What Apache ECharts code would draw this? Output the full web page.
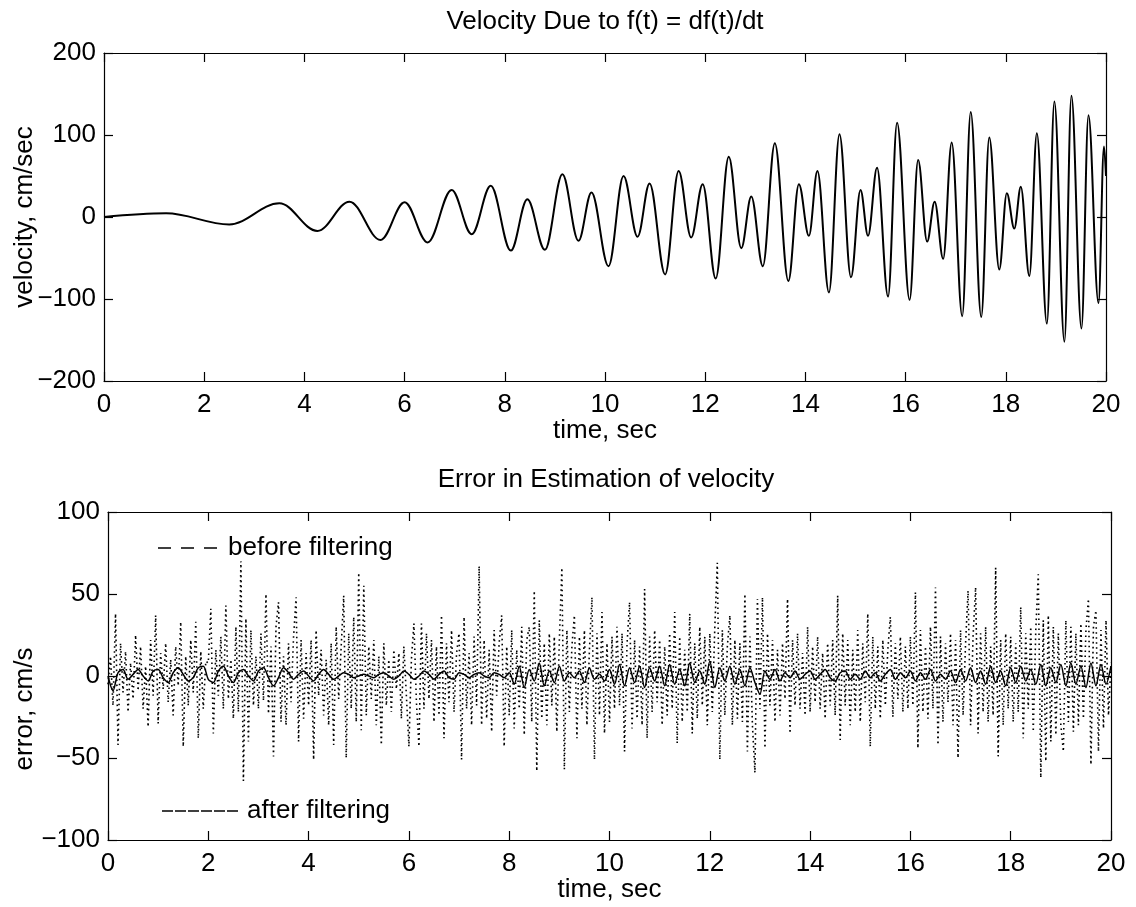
<!DOCTYPE html>
<html>
<head>
<meta charset="utf-8">
<script src="https://cdn.jsdelivr.net/npm/echarts@6/dist/echarts.min.js"></script>
<style>
html,body{margin:0;padding:0;background:#fff;}
#chart{width:1136px;height:907px;}
</style>
</head>
<body>
<div id="chart"></div>
<script>
// ---- Top plot: velocity extrema ----
var velTimes = [0, 1.24, 2.5, 3.5, 4.26, 4.9, 5.52, 6.0, 6.46, 6.94, 7.34, 7.72, 8.12, 8.45, 8.8, 9.15, 9.47, 9.73, 10.07, 10.37, 10.65, 10.89, 11.2, 11.47, 11.72, 11.95, 12.21, 12.47, 12.72, 12.92, 13.15, 13.39, 13.66, 13.87, 14.07, 14.24, 14.47, 14.68, 14.91, 15.1, 15.25, 15.43, 15.65, 15.83, 16.08, 16.25, 16.43, 16.58, 16.75, 16.92, 17.13, 17.3, 17.51, 17.67, 17.87, 18.02, 18.17, 18.3, 18.47, 18.62, 18.82, 18.97, 19.17, 19.31, 19.51, 19.65, 19.85, 19.96, 20];
var velValues = [0, 4.5, -9, 16.7, -17, 18.7, -28, 18, -31, 33, -21, 38, -41, 21.5, -40, 52, -29, 30, -60, 50, -24, 41, -70, 56, -25, 40, -75, 73.5, -38, 25, -60, 90, -78, 40, -23, 56, -92, 101, -73.5, 33, -23, 60, -97, 115, -101, 69.5, -30, 18.7, -51, 91, -121, 128, -122, 97, -64, 29, -14, 37, -72, 102, -130, 141, -152, 148, -136, 124, -105, 86, 50];

// ---- Bottom plot: error before filtering, one row per second, step 0.05 s ----
var beforeStep = 0.05;
var beforeValues = [].concat(
  [-5, 12, -18, 38, -42, 20, -10, 15, -22, 8, -14, 25, -9, 18, -20, 6, -31, 22, -12, 37],
  [-29, 14, -8, 20, -16, 10, -24, 18, -6, 33, -43, 12, -18, 22, -10, 33, -38, 15, -20, 9],
  [8, 41, -35, 16, -12, 24, -20, 43, -14, 10, -26, 30, -22, 70, -64, 35, -40, 28, -18, 12],
  [-20, 26, -15, 50, -23, 18, -49, 30, 45, -28, 12, -30, 20, -16, 24, 48, -40, 22, -26, 14],
  [-18, 22, -51, 28, -12, 16, -24, 10, -30, 20, -42, 30, -14, 18, 49, -50, 26, -20, 36, -28],
  [63, -33, 55, -24, 18, -14, 22, -30, 12, -42, 20, -18, 10, -22, 16, -8, 14, -26, 18, -12],
  [-43, 10, 32, -16, -43, 32, -20, 26, -14, 22, -28, 18, -24, 37, -38, 20, -16, 28, -22, 14],
  [26, -51, 36, -20, 14, -30, 24, -18, 67, -30, 22, -26, 16, -34, 28, -12, 20, 37, -43, 18],
  [-24, 28, -32, 16, -20, 30, -36, 22, 30, -28, 52, -58, 34, -26, 20, -30, 26, -18, 24, -34],
  [22, 66, -57, 28, -22, 18, 37, -38, 24, -20, 28, -30, 16, 48, -51, 26, -24, 39, -35, 20],
  [-28, 24, -20, 30, -18, 26, -46, 20, 45, -32, 22, -26, 18, -30, 53, -38, 24, -22, 28, -16],
  [22, -30, 18, -24, 26, -20, 39, -41, 24, -28, 16, -22, 38, -35, 20, -26, 30, -18, 24, -30],
  [26, -22, 30, 69, -51, 28, -24, 18, 37, -30, 22, -26, 20, -28, 50, -46, 24, -30, -59, 47],
  [-20, 48, -44, 26, -18, 22, -28, 16, -24, 20, -14, 47, -35, 22, -18, 26, -20, 14, -24, 30],
  [-22, 18, -16, 24, -20, 14, -26, 20, -18, 22, -24, 49, -39, 26, -18, 22, -30, 16, -22, 28],
  [-28, 20, -16, 38, -43, 24, -20, 18, -26, 22, -18, 16, 36, -25, 20, -14, 24, -22, 18, -20],
  [24, -18, 51, -44, 28, -22, 18, -26, 30, -20, 54, -42, 24, -28, 20, -16, 26, -30, 22, -50],
  [28, -24, 20, 52, -30, 24, 54, -35, 26, -22, 30, -28, 18, -24, 66, -49, 22, -30, 26, -20],
  [24, -28, 20, -22, 42, -38, 26, -20, 30, -34, 28, 62, -62, 34, -52, 37, -40, 30, -36, 26],
  [-30, -46, 34, -28, 30, -34, 26, -30, 32, -26, 28, 47, -54, 30, 40, -46, 28, -32, 34, -24],
  [8]
);

// ---- Bottom plot: error after filtering, one row per second, step 0.1 s ----
var afterStep = 0.1;
var afterValues = [].concat(
  [0, -9, 2, 4, -2, 1, 4, 0, -3, 3],
  [4, -1, -4, 2, 5, 1, -3, -1, 5, 6],
  [-2, -4, 3, 6, 0, -4, 2, 4, 0, -3],
  [3, 5, -1, -6, -1, 5, 2, -2, 1, 3],
  [0, -3, 1, 4, 1, -2, 0, 2, 1, -1],
  [0, 1, 0, -1, 1, 2, 0, -2, 0, 3],
  [1, -2, 0, 3, 1, -2, 1, 3, -1, -2],
  [2, 1, -1, 1, 2, 0, -1, 2, 1, -1],
  [2, -5, 6, -7, 4, -3, 8, -6, 3, -4],
  [6, -3, 2, -1, 3, -4, 5, -2, 1, -3],
  [4, -5, 7, -6, 5, -4, 6, -7, 5, -3],
  [6, -6, 7, -5, 4, -6, 8, -4, 3, -5],
  [9, -7, 5, -3, 6, -5, 4, -6, 5, -4],
  [-11, 3, -2, 4, -3, 2, -1, 3, -2, 1],
  [3, -2, 1, 4, -1, -3, 2, 3, -2, 1],
  [-2, 3, -1, 2, -3, 1, 4, -2, 2, -1],
  [3, -3, 2, -2, 4, -3, 1, -2, 3, -4],
  [4, -3, 5, -4, 3, -5, 6, -4, 3, -6],
  [5, -4, 6, -3, 4, -5, 7, -6, 5, -4],
  [7, -6, 8, -5, 6, -7, 8, -6, 7, -5],
  [6]
);

var topTitle = 'Velocity Due to f(t) = df(t)/dt';
var bottomTitle = 'Error in Estimation of velocity';
var xName = 'time, sec';
var topYName = 'velocity, cm/sec';
var bottomYName = 'error, cm/s';
var legendBefore = 'before filtering';
var legendAfter = 'after filtering';

var FONT = 'Liberation Sans, Arial, Helvetica, sans-serif';
var FS = 26;

function zip(ts, vs) { return vs.map(function (v, i) { return [ts[i], v]; }); }
function stepped(step, vs) { return vs.map(function (v, i) { return [+(i * step).toFixed(3), v]; }); }
function fmt(v) { return String(v).replace('-', '\u2212'); }

var chart = echarts.init(document.getElementById('chart'), null, { renderer: 'canvas' });

function xAx(grid, pos, showLabel, name) {
  return {
    type: 'value', gridIndex: grid, position: pos, min: 0, max: 20, interval: 2,
    name: name || '', nameLocation: 'middle', nameGap: 37, nameMoveOverlap: false,
    nameTextStyle: { fontFamily: FONT, fontSize: FS, color: '#000' },
    axisLine: { show: true, onZero: false, lineStyle: { color: '#000', width: 1.2 } },
    axisTick: { show: true, inside: true, length: 9, lineStyle: { color: '#000', width: 1.2 } },
    axisLabel: { show: showLabel, margin: 11, fontFamily: FONT, fontSize: FS, color: '#000', formatter: fmt },
    splitLine: { show: false }
  };
}
function yAx(grid, pos, showLabel, min, max, interval, name, gap, pad) {
  return {
    type: 'value', gridIndex: grid, position: pos, min: min, max: max, interval: interval,
    name: name || '', nameLocation: 'middle', nameGap: gap || 60, nameMoveOverlap: false,
    nameTextStyle: { fontFamily: FONT, fontSize: FS, color: '#000', padding: pad || 0 },
    axisLine: { show: true, onZero: false, lineStyle: { color: '#000', width: 1.2 } },
    axisTick: { show: true, inside: true, length: 9, lineStyle: { color: '#000', width: 1.2 } },
    axisLabel: { show: showLabel, margin: 8, fontFamily: FONT, fontSize: FS, color: '#000', formatter: fmt },
    splitLine: { show: false }
  };
}

var option = {
  animation: false,
  backgroundColor: '#fff',
  textStyle: { fontFamily: FONT, color: '#000' },
  grid: [
    { left: 104, top: 53, width: 1002, height: 328, containLabel: false, outerBoundsMode: 'none' },
    { left: 108, top: 512, width: 1003, height: 328, containLabel: false, outerBoundsMode: 'none' }
  ],
  xAxis: [
    xAx(0, 'bottom', true, xName),
    xAx(0, 'top', false),
    xAx(1, 'bottom', true, xName),
    xAx(1, 'top', false)
  ],
  yAxis: [
    yAx(0, 'left', true, -200, 200, 100, topYName, 66),
    yAx(0, 'right', false, -200, 200, 100),
    yAx(1, 'left', true, -100, 100, 50, bottomYName, 70, [0, 66, 0, 0]),
    yAx(1, 'right', false, -100, 100, 50)
  ],
  graphic: [
    { type: 'text', x: 605, y: 22, style: { text: topTitle, font: FS + 'px ' + FONT, fill: '#000', textAlign: 'center', textVerticalAlign: 'middle' } },
    { type: 'text', x: 606, y: 480, style: { text: bottomTitle, font: FS + 'px ' + FONT, fill: '#000', textAlign: 'center', textVerticalAlign: 'middle' } },
    { type: 'line', shape: { x1: 158, y1: 548, x2: 219, y2: 548 }, style: { stroke: '#000', lineWidth: 1.5, lineDash: [13, 10] } },
    { type: 'text', x: 228, y: 548, style: { text: legendBefore, font: FS + 'px ' + FONT, fill: '#000', textAlign: 'left', textVerticalAlign: 'middle' } },
    { type: 'line', shape: { x1: 162, y1: 811, x2: 238, y2: 811 }, style: { stroke: '#000', lineWidth: 1.5, lineDash: [11, 2] } },
    { type: 'text', x: 247, y: 811, style: { text: legendAfter, font: FS + 'px ' + FONT, fill: '#000', textAlign: 'left', textVerticalAlign: 'middle' } }
  ],
  series: [
    {
      name: 'velocity', type: 'line', xAxisIndex: 0, yAxisIndex: 0,
      data: zip(velTimes, velValues), showSymbol: false, symbol: 'none',
      smooth: 0.36, smoothMonotone: 'x',
      lineStyle: { color: '#000', width: 2 }
    },
    {
      name: 'before filtering', type: 'line', xAxisIndex: 2, yAxisIndex: 2,
      data: stepped(beforeStep, beforeValues), showSymbol: false, symbol: 'none',
      lineStyle: { color: '#000', width: 1.6, type: [1.6, 3.4] }
    },
    {
      name: 'after filtering', type: 'line', xAxisIndex: 2, yAxisIndex: 2,
      data: stepped(afterStep, afterValues), showSymbol: false, symbol: 'none',
      smooth: 0.3,
      lineStyle: { color: '#000', width: 1.5 }
    }
  ]
};
chart.setOption(option);
</script>
</body>
</html>
